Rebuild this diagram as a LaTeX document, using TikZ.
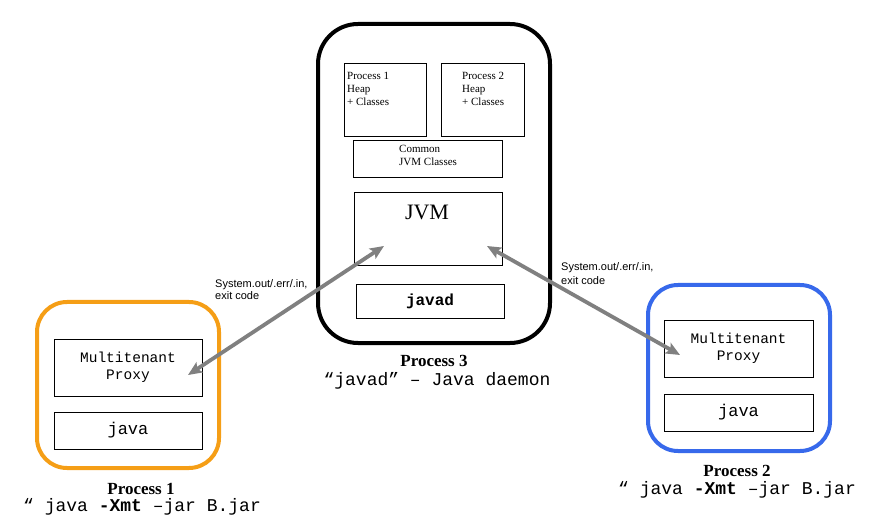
\documentclass[tikz,border=0pt]{standalone}
\usepackage{fontspec}
\setmainfont{Liberation Serif}
\setsansfont{Liberation Sans}
\setmonofont{Liberation Mono}
\usetikzlibrary{arrows.meta}
\definecolor{procorange}{RGB}{245,158,22}
\definecolor{procblue}{RGB}{55,105,235}
\definecolor{arrgray}{RGB}{128,128,128}
\tikzset{
  box/.style={draw=black, line width=0.8pt, fill=white, inner sep=0pt},
  bigproc/.style={draw=black, line width=4pt, rounded corners=40pt, inner sep=0pt},
  smallproc/.style={line width=4pt, rounded corners=30pt, inner sep=0pt},
  arr/.style={draw=arrgray, line width=3.8pt, {Stealth[length=14pt,width=12pt,inset=3pt]}-{Stealth[length=14pt,width=12pt,inset=3pt]}},
  smalltxt/.style={font=\fontsize{11}{12.8}\selectfont, align=left, inner sep=0pt, anchor=north west},
  sanslbl/.style={font=\sffamily\fontsize{11}{12.5}\selectfont, align=left, inner sep=0pt, anchor=north west},
  plabel/.style={font=\bfseries\fontsize{17}{20}\selectfont, inner sep=0pt},
  cmdline/.style={font=\ttfamily\fontsize{18}{20}\selectfont, inner sep=0pt},
}
\begin{document}
\begin{tikzpicture}[x=1pt,y=-1pt]
\useasboundingbox (0,0) rectangle (880,526);
% Process 3
\node[bigproc, minimum width=232pt, minimum height=319pt] (p3) at (434,183.5) {};
\node[box, minimum width=82pt, minimum height=73pt] (heap1) at (385,99.5) {};
\node[box, minimum width=83pt, minimum height=73pt] (heap2) at (482.5,99.5) {};
\node[box, minimum width=149pt, minimum height=37pt] (common) at (427.5,158.5) {};
\node[box, minimum width=148pt, minimum height=73pt] (jvm) at (428,228.5) {};
\node[box, minimum width=148pt, minimum height=34pt, font=\ttfamily\bfseries\fontsize{16}{18}\selectfont] (javad) at (430,301) {javad};
\node[smalltxt] (heap1t) at (347,72.5) {Process 1\\Heap\\+ Classes};
\node[smalltxt] (heap2t) at (462,72.5) {Process 2\\Heap\\+ Classes};
\node[smalltxt] (commont) at (399,145.5) {Common\\JVM Classes};
\node[inner sep=0pt, font=\fontsize{22}{24}\selectfont] (jvmt) at (427,212) {JVM};
\node[plabel] (p3l) at (434,361) {Process 3};
\node[cmdline] (p3c) at (437,381) {“javad” – Java daemon};
% Process 1
\node[smallproc, draw=procorange, minimum width=182pt, minimum height=166pt] (p1) at (128,385) {};
\node[box, minimum width=148pt, minimum height=57pt, align=center, font=\ttfamily\fontsize{14.5}{17}\selectfont] (proxy1) at (128,367.5) {Multitenant\\Proxy};
\node[box, minimum width=148pt, minimum height=37pt, font=\ttfamily\fontsize{17}{19}\selectfont] (java1) at (128,430.5) {java};
\node[plabel] (p1l) at (141,489) {Process 1};
\node[cmdline] (p1c) at (142,507) {“ java \textbf{-Xmt} –jar B.jar};
% Process 2
\node[smallproc, draw=procblue, minimum width=182pt, minimum height=166pt] (p2) at (739,368) {};
\node[box, minimum width=149pt, minimum height=57pt, align=center, font=\ttfamily\fontsize{14.5}{17}\selectfont] (proxy2) at (738.5,348.5) {Multitenant\\Proxy};
\node[box, minimum width=149pt, minimum height=37pt, font=\ttfamily\fontsize{17}{19}\selectfont] (java2) at (738.5,412.5) {java};
\node[plabel] (p2l) at (737,471) {Process 2};
\node[cmdline] (p2c) at (737,490) {“ java \textbf{-Xmt} –jar B.jar};
% connectors
\coordinate (a1s) at (188,375);
\coordinate (a1e) at (384,246);
\coordinate (a2s) at (487,246);
\coordinate (a2e) at (680,355);
\draw[arr] (a1s) -- (a1e);
\draw[arr] (a2s) -- (a2e);
\node[sanslbl, font=\sffamily\fontsize{11}{12}\selectfont] (lbl1) at (215,279) {System.out/.err/.in,\\exit code};
\node[sanslbl, font=\sffamily\fontsize{11}{14}\selectfont] (lbl2) at (561,262) {System.out/.err/.in,\\exit code};
\end{tikzpicture}
\end{document}
